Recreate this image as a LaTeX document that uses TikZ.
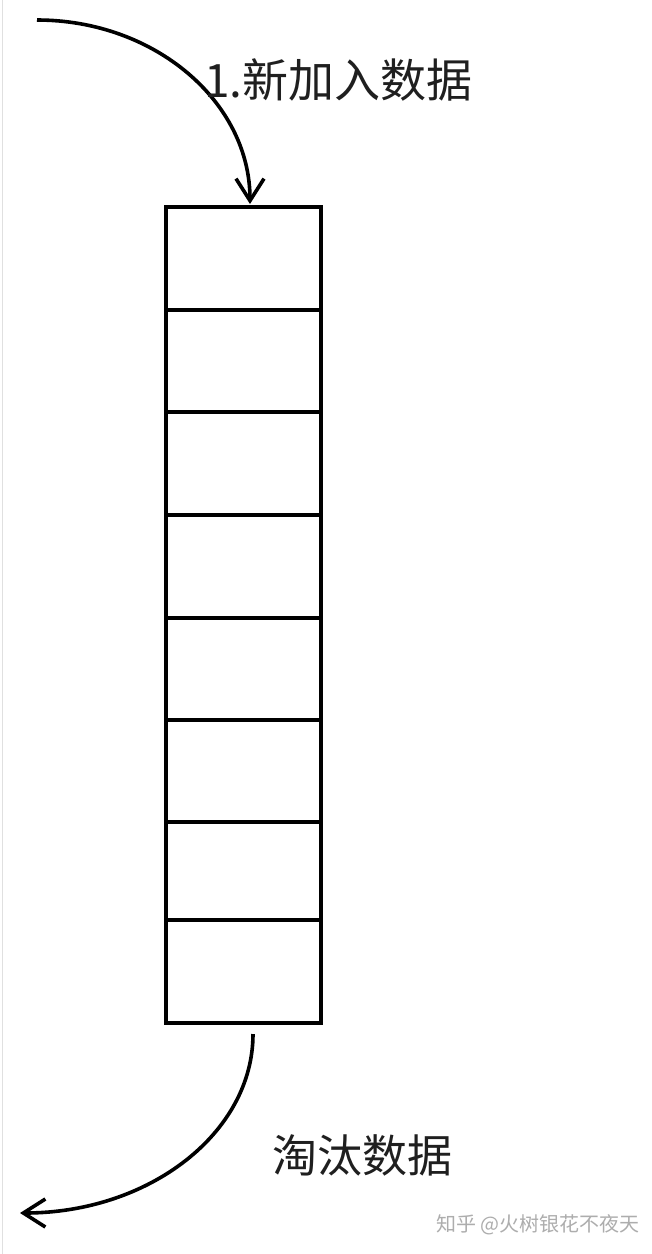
\documentclass[tikz,border=0pt]{standalone}
\usepackage{fontspec}
\newfontfamily\cjk{Noto Sans CJK SC}
\usetikzlibrary{arrows.meta}
\begin{document}
\begin{tikzpicture}[x=1pt,y=-1pt,
  cell/.style={draw=black,line width=3.6pt,minimum width=155pt,inner sep=0pt,outer sep=0pt,anchor=north west},
  flow/.style={draw=black,line width=3.6pt,-{Straight Barb[length=22pt,width=28pt,line width=3.6pt]}},
  lab/.style={font=\cjk\fontsize{46}{50}\selectfont,text=black!88,inner sep=0pt},
  wmark/.style={font=\cjk\fontsize{20}{22}\selectfont,text=black!32,inner sep=0pt}]
\useasboundingbox (0,0) rectangle (652,1254);
\fill[white] (0,0) rectangle (652,1254);
\draw[black!12,line width=1pt] (2,0) -- (2,1254);
\node[cell,minimum height=103pt] (c1) at (166,207) {};
\node[cell,minimum height=102pt] (c2) at (166,310) {};
\node[cell,minimum height=103pt] (c3) at (166,412) {};
\node[cell,minimum height=103pt] (c4) at (166,515) {};
\node[cell,minimum height=102pt] (c5) at (166,618) {};
\node[cell,minimum height=102pt] (c6) at (166,720) {};
\node[cell,minimum height=98pt] (c7) at (166,822) {};
\node[cell,minimum height=103pt] (c8) at (166,920) {};
\coordinate (in) at (37,20);
\coordinate (intip) at (250,204);
\coordinate (outstart) at (253,1034);
\coordinate (out) at (20,1213);
\draw[flow] (in) .. controls (155,20) and (250,102) .. (intip);
\draw[flow] (outstart) .. controls (253,1133) and (149,1213) .. (out);
\node[lab,anchor=west] (t1) at (204,80) {1.新加入数据};
\node[lab,anchor=west,font=\cjk\fontsize{45}{49}\selectfont] (t2) at (272,1155) {淘汰数据};
\node[wmark,anchor=east] (wm) at (640,1225) {知乎 @火树银花不夜天};
\end{tikzpicture}
\end{document}
